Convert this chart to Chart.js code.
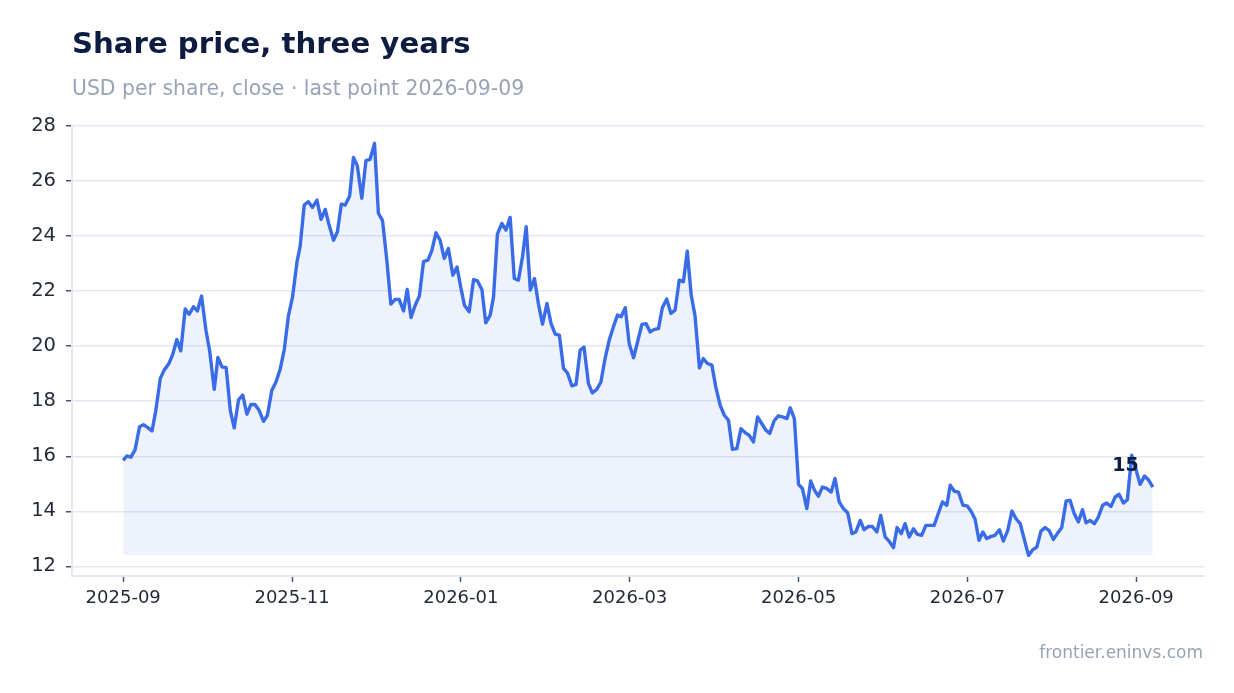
<!DOCTYPE html>
<html>
<head>
<meta charset="utf-8">
<script src="https://cdn.jsdelivr.net/npm/chart.js@4.4.1/dist/chart.umd.min.js"></script>
<style>
html,body{margin:0;padding:0;background:#ffffff;}
#wrap{width:1234px;height:693px;position:relative;}
canvas{display:block;}
</style>
</head>
<body>
<div id="wrap"><canvas id="c" width="1234" height="693" style="width:1234px;height:693px"></canvas></div>
<script>
// Calendar days since 2025-09-01 for each close
const dayOffsets = [
0,1.3,2.8,4.3,5.9,7.3,8.9,10.4,11.8,13.4,
14.8,16.4,17.8,19.4,20.8,22.4,23.8,25.4,26.8,28.3,
29.9,31.2,32.9,34.2,35.7,37.2,38.7,40.1,41.7,43.2,
44.7,46.1,47.6,49.1,50.7,52.1,53.7,55.2,56.7,58.2,
59.7,61.2,62.8,63.9,65.4,66.9,68.4,70.0,71.5,73.0,
74.4,76.0,77.4,78.8,80.2,81.8,83.2,84.6,86.2,87.7,
89.2,90.8,92.2,93.7,95.3,96.7,98.3,99.7,101.3,102.6,
104.0,105.5,107.0,108.5,110.1,111.5,113.0,114.5,116.0,117.5,
119.1,120.6,122.1,123.3,125.0,126.6,128.0,129.6,131.0,132.6,
133.8,135.2,136.8,138.3,139.8,141.3,142.8,144.3,145.6,147.1,
148.6,150.0,151.5,153.1,154.6,156.1,157.6,159.1,160.5,162.1,
163.6,165.1,166.5,168.1,169.5,171.1,172.6,174.1,175.6,177.1,
178.6,179.9,181.4,182.8,184.4,185.9,187.4,188.9,190.4,191.9,
193.4,194.8,196.4,197.9,199.4,200.9,202.4,203.8,205.2,206.6,
208.2,209.6,211.1,212.7,214.1,215.7,217.2,218.7,220.1,221.7,
223.2,224.7,226.2,227.7,229.2,230.7,232.2,233.6,235.2,236.7,
238.2,239.8,241.0,242.5,244.0,245.4,247.0,248.4,249.8,251.2,
252.6,254.2,255.8,257.2,258.7,260.2,261.8,263.3,264.7,266.3,
267.7,269.3,270.7,272.3,273.7,275.3,276.7,278.3,279.6,281.1,
282.5,284.0,285.5,287.0,288.5,290.0,291.5,293.0,294.5,296.0,
297.6,298.8,300.3,301.8,303.4,304.9,306.4,307.8,309.2,310.6,
312.0,313.6,315.0,316.6,318.0,319.6,321.1,322.6,324.1,325.6,
327.1,328.7,330.1,331.6,333.1,334.5,336.1,337.5,339.1,340.7,
342.1,343.6,345.1,346.6,347.9,349.3,350.9,352.3,353.9,355.3,
356.9,358.4,359.8,361.4,362.8,364.4,366.0,367.4,369.0,370.4,372.0
];

// USD per share, close
const closes = [
15.85,16.01,15.97,16.24,17.07,17.15,17.04,16.92,17.67,18.83,
19.13,19.35,19.67,20.24,19.83,21.35,21.16,21.43,21.28,21.82,
20.58,19.85,18.43,19.59,19.25,19.22,17.67,17.03,18.06,18.22,
17.53,17.88,17.88,17.67,17.27,17.49,18.40,18.70,19.16,19.88,
21.10,21.80,23.07,23.61,25.13,25.25,25.04,25.31,24.61,24.97,
24.40,23.85,24.16,25.16,25.13,25.45,26.86,26.55,25.37,26.74,
26.79,27.37,24.83,24.56,23.07,21.53,21.70,21.70,21.28,22.06,
21.04,21.49,21.82,23.07,23.13,23.47,24.12,23.85,23.19,23.55,
22.58,22.88,22.07,21.49,21.25,22.42,22.37,22.06,20.85,21.13,
21.79,24.07,24.46,24.22,24.68,22.46,22.40,23.27,24.34,22.04,
22.46,21.55,20.80,21.55,20.82,20.44,20.40,19.19,19.03,18.56,
18.61,19.85,19.97,18.64,18.30,18.43,18.70,19.55,20.22,20.70,
21.13,21.07,21.40,20.10,19.58,20.18,20.79,20.82,20.52,20.61,
20.64,21.40,21.71,21.19,21.31,22.40,22.34,23.45,21.88,21.10,
19.21,19.55,19.37,19.31,18.52,17.85,17.49,17.31,16.25,16.28,
17.00,16.86,16.76,16.52,17.43,17.19,16.95,16.83,17.29,17.47,
17.43,17.37,17.76,17.37,14.98,14.83,14.10,15.10,14.76,14.55,
14.88,14.83,14.70,15.19,14.34,14.10,13.94,13.19,13.25,13.67,
13.33,13.45,13.45,13.25,13.85,13.07,12.92,12.68,13.41,13.19,
13.55,13.07,13.37,13.16,13.13,13.49,13.49,13.49,13.92,14.34,
14.22,14.95,14.73,14.70,14.22,14.20,13.99,13.71,12.95,13.25,
13.01,13.09,13.13,13.33,12.92,13.31,14.01,13.73,13.55,12.97,
12.40,12.61,12.70,13.28,13.41,13.31,12.98,13.19,13.41,14.38,
14.40,13.92,13.61,14.06,13.58,13.67,13.55,13.79,14.22,14.30,
14.18,14.52,14.62,14.30,14.42,16.04,15.49,14.98,15.28,15.15,14.88
];

const xTickDays = [0, 61, 122, 183, 244, 305, 366];
const xTickLabels = ['2025-09', '2025-11', '2026-01', '2026-03', '2026-05', '2026-07', '2026-09'];
const yTickValues = [12, 14, 16, 18, 20, 22, 24, 26, 28];

const titleText = 'Share price, three years';
const subtitleText = 'USD per share, close \u00b7 last point 2026-09-09';
const footerText = 'frontier.eninvs.com';

const FONT = "'DejaVu Sans', 'Noto Sans', sans-serif";
const LINE = '#3a6ce8';
const GRID = '#e3e8f1';
const TICKMARK = '#4a5568';
const LABEL = '#1f2937';

const points = dayOffsets.map((d, i) => ({x: d, y: closes[i]}));
const minClose = Math.min(...closes);

const textPlugin = {
  id: 'texts',
  afterDraw(chart) {
    const ctx = chart.ctx;
    ctx.save();
    ctx.textAlign = 'left';
    ctx.textBaseline = 'alphabetic';
    ctx.fillStyle = '#0d1c40';
    ctx.font = 'bold 29.2px ' + FONT;
    ctx.fillText(titleText, 72, 53);
    ctx.fillStyle = '#97a3b6';
    ctx.font = '20.4px ' + FONT;
    ctx.fillText(subtitleText, 72, 95);
    ctx.textAlign = 'right';
    ctx.font = '17px ' + FONT;
    ctx.fillText(footerText, 1203, 658);
    // last value label
    const xs = chart.scales.x, ys = chart.scales.y;
    const lx = xs.getPixelForValue(dayOffsets[dayOffsets.length - 1]);
    const lv = closes[closes.length - 1];
    const ly = ys.getPixelForValue(lv);
    ctx.fillStyle = '#0d1c40';
    ctx.font = 'bold 19px ' + FONT;
    ctx.textAlign = 'right';
    ctx.fillText(String(Math.round(lv)), lx - 14, ly - 16);
    ctx.restore();
  }
};

new Chart(document.getElementById('c'), {
  type: 'line',
  data: {
    datasets: [{
      data: points,
      borderColor: LINE,
      borderWidth: 3.4,
      backgroundColor: 'rgba(58,108,232,0.09)',
      fill: {value: minClose},
      pointRadius: 0,
      pointHoverRadius: 0,
      tension: 0,
      borderJoinStyle: 'round'
    }]
  },
  options: {
    responsive: false,
    animation: false,
    devicePixelRatio: 1,
    layout: {padding: {left: 0, right: 30, top: 126, bottom: 67}},
    plugins: {legend: {display: false}, tooltip: {enabled: false}, title: {display: false}},
    scales: {
      x: {
        type: 'linear',
        min: -18.5,
        max: 390.5,
        afterBuildTicks: s => { s.ticks = xTickDays.map(v => ({value: v})); },
        afterFit: s => { s.height = 50; },
        ticks: {
          autoSkip: false,
          maxRotation: 0,
          padding: 6,
          color: LABEL,
          font: {family: FONT, size: 18},
          callback: (v) => { const i = xTickDays.indexOf(v); return i >= 0 ? xTickLabels[i] : ''; }
        },
        grid: {drawOnChartArea: false, drawTicks: true, tickLength: 6, tickColor: TICKMARK, tickWidth: 1.5, color: GRID},
        border: {display: true, color: GRID, width: 2}
      },
      y: {
        type: 'linear',
        min: 11.65,
        max: 28,
        afterBuildTicks: s => { s.ticks = yTickValues.map(v => ({value: v})); },
        afterFit: s => { s.width = 72; },
        ticks: {
          padding: 10,
          color: LABEL,
          font: {family: FONT, size: 19.5},
          callback: v => String(v)
        },
        grid: {drawOnChartArea: true, drawTicks: true, tickLength: 6, tickColor: TICKMARK, tickWidth: 1.5, color: GRID, lineWidth: 1.5},
        border: {display: true, color: GRID, width: 2}
      }
    }
  },
  plugins: [textPlugin]
});
</script>
</body>
</html>
